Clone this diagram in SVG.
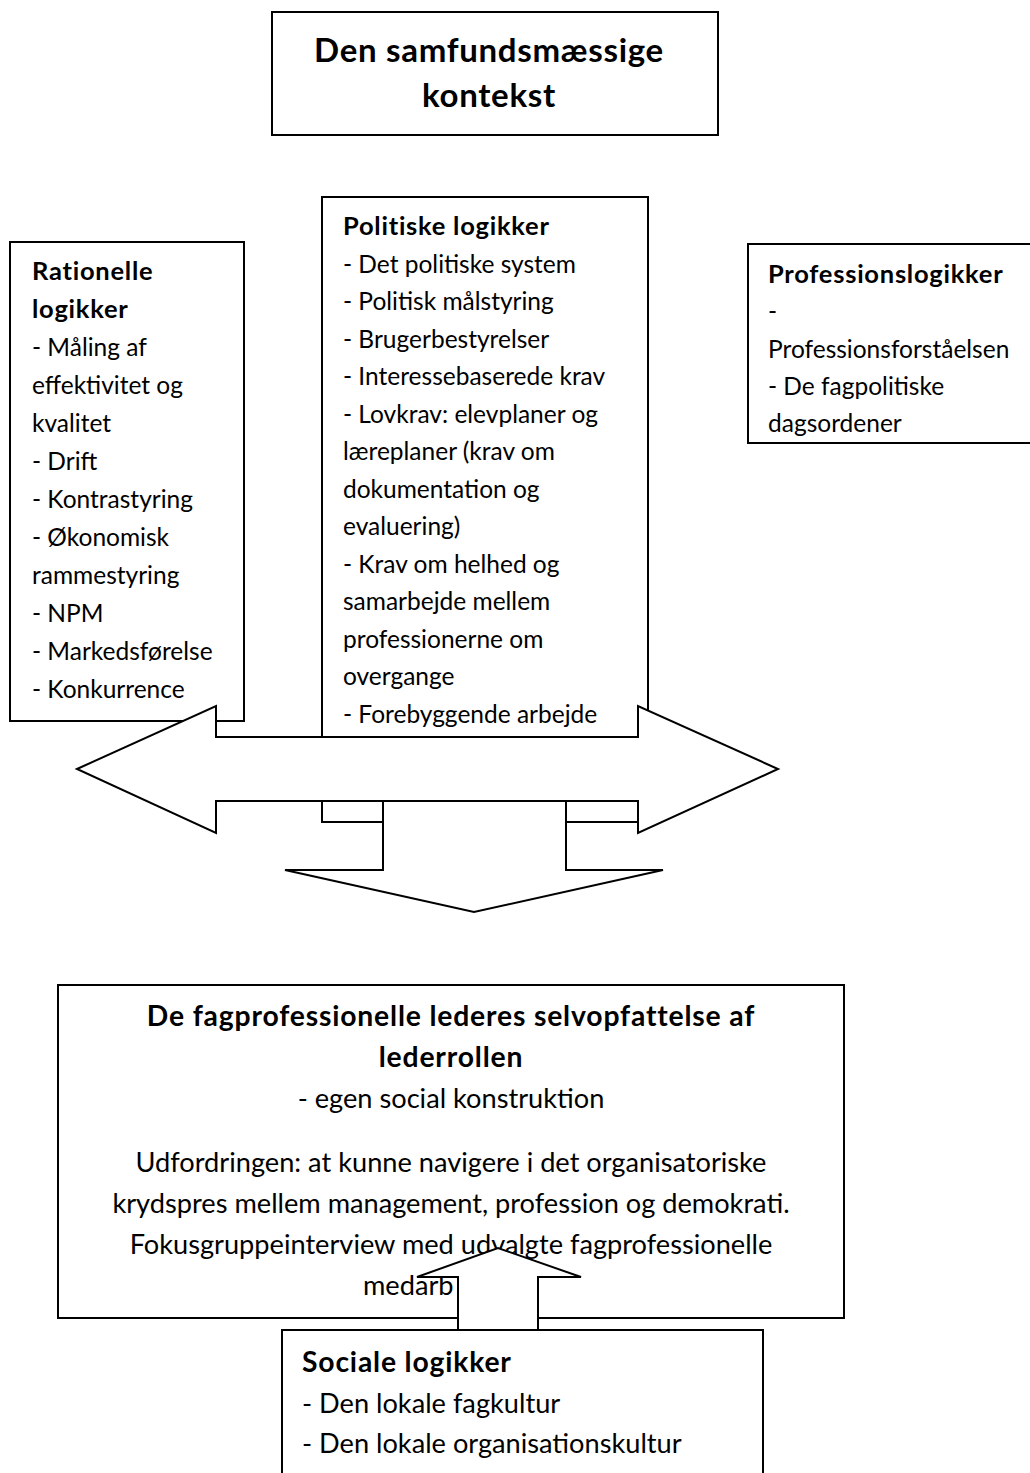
<svg xmlns="http://www.w3.org/2000/svg" width="1030" height="1473" viewBox="0 0 1030 1473">
<style>
text{font-family:Lato,"Liberation Sans",sans-serif;font-size:24.5px;fill:#000}
.b{font-weight:bold;font-size:25.5px;letter-spacing:0.75px}
.t{font-weight:bold;font-size:33px;letter-spacing:0.7px}
.L{font-size:27.2px}
.LB{font-weight:bold;font-size:28.3px;letter-spacing:0.83px}
.c{text-anchor:middle}
.box{fill:#fff;stroke:#000;stroke-width:2}
.arr{fill:#fff;stroke:#000;stroke-width:2;stroke-linejoin:miter}
</style>
<rect width="1030" height="1473" fill="#fff"/>
<g id="kontekst">
<rect class="box" x="272" y="12" width="446" height="123"/>
<text class="t c" x="489" y="62">Den samfundsmæssige</text>
<text class="t c" x="489" y="107">kontekst</text>
</g>
<g id="rationelle">
<rect class="box" x="10" y="242" width="234" height="479"/>
<text class="b" x="32" y="280">Rationelle</text>
<text class="b" x="32" y="318">logikker</text>
<text x="32" y="356">- Måling af</text>
<text x="32" y="394">effektivitet og</text>
<text x="32" y="432">kvalitet</text>
<text x="32" y="470">- Drift</text>
<text x="32" y="508">- Kontrastyring</text>
<text x="32" y="546">- Økonomisk</text>
<text x="32" y="584">rammestyring</text>
<text x="32" y="622">- NPM</text>
<text x="32" y="660">- Markedsførelse</text>
<text x="32" y="698">- Konkurrence</text>
</g>
<g id="politiske">
<rect class="box" x="322" y="197" width="326" height="625"/>
<text class="b" x="343" y="235">Politiske logikker</text>
<text x="343" y="272.5">- Det politiske system</text>
<text x="343" y="310">- Politisk målstyring</text>
<text x="343" y="347.5">- Brugerbestyrelser</text>
<text x="343" y="385">- Interessebaserede krav</text>
<text x="343" y="422.5">- Lovkrav: elevplaner og</text>
<text x="343" y="460">læreplaner (krav om</text>
<text x="343" y="497.5">dokumentation og</text>
<text x="343" y="535">evaluering)</text>
<text x="343" y="572.5">- Krav om helhed og</text>
<text x="343" y="610">samarbejde mellem</text>
<text x="343" y="647.5">professionerne om</text>
<text x="343" y="685">overgange</text>
<text x="343" y="722.5">- Forebyggende arbejde</text>
</g>
<g id="professions">
<rect class="box" x="748" y="244" width="300" height="199"/>
<text class="b" x="768" y="283">Professionslogikker</text>
<text x="768" y="320">-</text>
<text x="768" y="357.5">Professionsforståelsen</text>
<text x="768" y="395">- De fagpolitiske</text>
<text x="768" y="432">dagsordener</text>
</g>
<g id="connectors">
<polygon id="arrow-down" class="arr" points="383,760 566,760 566,870 663,870 474,912 285,870 383,870"/>
<polygon id="arrow-double" class="arr" points="77,769 216,706 216,737 638,737 638,706 778,769 638,833 638,801 216,801 216,833"/>
</g>
<g id="selvopfattelse">
<rect class="box" x="58" y="985" width="786" height="333"/>
<text class="LB c" x="451" y="1026">De fagprofessionelle lederes selvopfattelse af</text>
<text class="LB c" x="451" y="1067">lederrollen</text>
<text class="L c" x="451" y="1108">- egen social konstruktion</text>
<text class="L c" x="451" y="1172">Udfordringen: at kunne navigere i det organisatoriske</text>
<text class="L c" x="451" y="1213">krydspres mellem management, profession og demokrati.</text>
<text class="L c" x="451" y="1254">Fokusgruppeinterview med udvalgte fagprofessionelle</text>
<text class="L" x="363" y="1295">medarb</text>
</g>
<g id="connectors-up">
<polygon id="arrow-up" class="arr" points="458,1331 458,1277 417,1277 498,1248 581,1277 538,1277 538,1331"/>
</g>
<g id="sociale">
<rect class="box" x="282" y="1330" width="481" height="160"/>
<text class="LB" x="302" y="1372">Sociale logikker</text>
<text class="L" x="302" y="1413">- Den lokale fagkultur</text>
<text class="L" x="302" y="1453">- Den lokale organisationskultur</text>
</g>
</svg>
